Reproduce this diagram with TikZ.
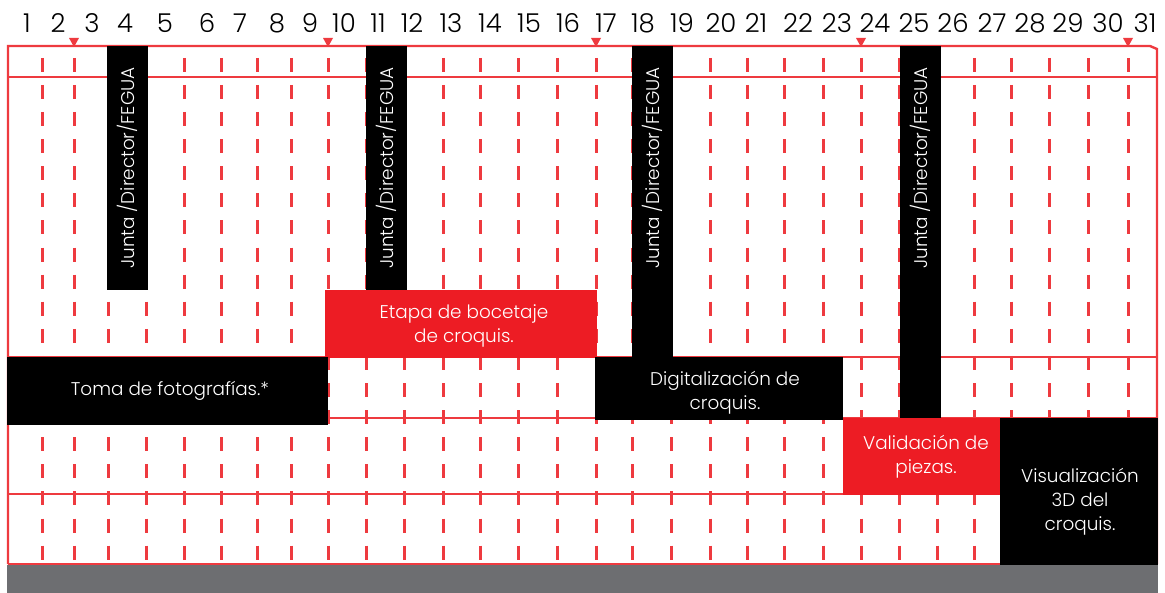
\documentclass[tikz,border=0pt]{standalone}
\usepackage{fontspec}
\setmainfont{Poppins}[UprightFont=* Light]
\definecolor{rojo}{HTML}{ED1C24}
\definecolor{linea}{HTML}{EE3A3F}
\definecolor{gris}{HTML}{6D6E71}
\tikzset{
	dia/.style={font=\fontsize{13}{14}\selectfont, inner sep=0pt},
	tarea/.style={text=white, align=center, inner sep=0pt, font=\fontsize{9.2}{12}\selectfont},
	guia/.style={linea, line width=1.5pt, dash pattern=on 7pt off 6.55pt, dash phase=7.65pt},
	fila/.style={linea, line width=1.2pt}
}
\begin{document}
\begin{tikzpicture}[x=0.5pt, y=-0.5pt, line join=miter]
				\useasboundingbox (0,0) rectangle (1165,593);
				\path
				(8,46) coordinate (NO)
				(1150,46) coordinate (NE)
				(1157,49) coordinate (NB)
				(1157,564) coordinate (SE)
				(8,564) coordinate (SO)
				;
				\draw[fila] (SO)--(NO)--(NE)--(NB)--(SE);
				\foreach \y in {77,357,418,494,564} \draw[fila] (8,\y)--(1157,\y);
				\foreach \x in {42,74,108,146,184,221,257,291,328,366,404,443,480,518,557,596,632,671,710,747,784,823,861,899,937,974,1011,1049,1088,1128} \draw[guia] (\x,46)--(\x,564);
				\foreach \x in {74,328,596,861,1128} \fill[linea] (\x-5,38)--(\x+5,38)--(\x,47)--cycle;
				\foreach \d/\x in {1/27,2/58,3/92,4/125,5/165,6/207,7/240,8/277,9/310,10/344,11/378,12/412,13/451,14/490,15/529,16/568,17/606,18/643,19/682,20/721,21/756,22/798,23/837,24/875,25/914,26/953,27/992,28/1030,29/1068,30/1108,31/1145} \node[dia] (d\d) at (\x,23) {\d};
				\foreach \i/\a/\b in {1/107/290,2/366/290,3/632/357,4/900/418} {
					\fill[black] (\a,46) rectangle (\a+41,\b);
					\node[tarea, rotate=90] (j\i) at (\a+20.5,168) {Junta /Director/FEGUA};
				}
				\fill[rojo] (325,290) rectangle (597,358);
				\node[tarea] (boceto) at (464,326) {Etapa de bocetaje\\de croquis.};
				\fill[black] (7,357) rectangle (328,425);
				\node[tarea] (toma) at (170,391) {Toma de fotografías.*};
				\fill[black] (595,357) rectangle (843,420);
				\node[tarea] (digital) at (725,393) {Digitalización de\\croquis.};
				\fill[rojo] (843,418) rectangle (1000,495);
				\node[tarea] (valida) at (926,457) {Validación de\\piezas.};
				\fill[black] (1000,418) rectangle (1158,565);
				\node[tarea] (visual) at (1080,502) {Visualización\\3D del\\croquis.};
				\fill[gris] (7,565) rectangle (1158,593);
			\end{tikzpicture}
\end{document}
